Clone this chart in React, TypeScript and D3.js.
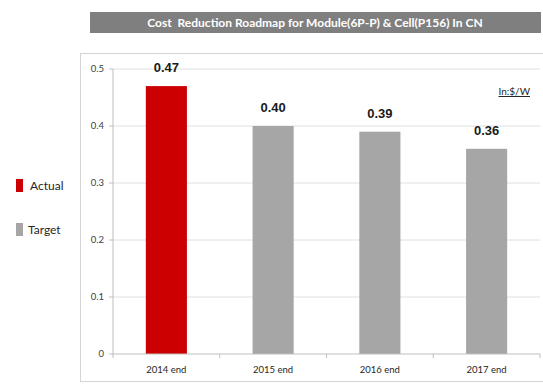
import React from "react";
import * as d3 from "d3";

const categories = ["2014 end", "2015 end", "2016 end", "2017 end"];
const values = [0.47, 0.40, 0.39, 0.36];
const kinds = ["Actual", "Target", "Target", "Target"];
const yTicks = [0, 0.1, 0.2, 0.3, 0.4, 0.5];
const legendItems = ["Actual", "Target"];

const colors: Record<string, string> = { Actual: "#cc0000", Target: "#a6a6a6" };

const W = 543;
const H = 386;
const plot = { left: 113, right: 540, top: 69, bottom: 354 };

export default function App() {
  const x = d3
    .scaleBand<string>()
    .domain(categories)
    .range([plot.left, plot.right])
    .paddingInner(0.615)
    .paddingOuter(0.3075);
  const y = d3.scaleLinear().domain([0, 0.5]).range([plot.bottom, plot.top]);
  const bounds = d3.range(categories.length + 1).map((i) => plot.left + (i * (plot.right - plot.left)) / categories.length);

  return (
    <svg width={W} height={H} style={{ position: "absolute", left: 0, top: 0, background: "#fff" }}>
      {/* title bar */}
      <rect x={90} y={12} width={451} height={21} fill="#7f7f7f" />
      <text x={315} y={26.5} textAnchor="middle" fill="#fff" fontFamily="Lato, 'Open Sans', sans-serif" fontWeight={700} fontSize={12} style={{ whiteSpace: "pre" }}>
        {"Cost  Reduction Roadmap for Module(6P-P) & Cell(P156) In CN"}
      </text>

      {/* chart frame */}
      <rect x={80.5} y={53.5} width={470} height={328} fill="none" stroke="#d4d4d4" strokeWidth={1} />

      {/* gridlines and y ticks */}
      {yTicks.map((t) => (
        <g key={t}>
          {t > 0 && <line x1={plot.left} x2={plot.right} y1={y(t)} y2={y(t)} stroke="#e0e0e0" strokeWidth={1} />}
          <line x1={plot.left - 4} x2={plot.left} y1={y(t)} y2={y(t)} stroke="#bfbfbf" />
          <text x={104} y={y(t) + 3} textAnchor="end" fontFamily="Lato, sans-serif" fontSize={9.5} fill="#404040">
            {d3.format("")(t)}
          </text>
        </g>
      ))}
      <line x1={plot.left} x2={plot.left} y1={plot.top} y2={plot.bottom} stroke="#bfbfbf" />

      {/* bars */}
      {categories.map((c, i) => (
        <g key={c}>
          <rect x={x(c)} y={y(values[i])} width={x.bandwidth()} height={plot.bottom - y(values[i])} fill={colors[kinds[i]]} />
          <text x={(x(c) as number) + x.bandwidth() / 2} y={y(values[i]) - 14} textAnchor="middle" fontFamily="'Liberation Sans', Arial, sans-serif" fontWeight={700} fontSize={13} fill="#1a1a1a">
            {values[i].toFixed(2)}
          </text>
          <text x={(x(c) as number) + x.bandwidth() / 2} y={373} textAnchor="middle" fontFamily="Lato, sans-serif" fontSize={9.5} fill="#262626">
            {c}
          </text>
        </g>
      ))}

      {/* x axis */}
      <line x1={plot.left} x2={plot.right} y1={plot.bottom} y2={plot.bottom} stroke="#bfbfbf" />
      {bounds.map((b) => (
        <line key={b} x1={b} x2={b} y1={plot.bottom} y2={plot.bottom + 4} stroke="#bfbfbf" />
      ))}

      {/* unit */}
      <text x={530} y={95} textAnchor="end" fontFamily="Lato, sans-serif" fontSize={10} fill="#262626" textDecoration="underline">
        In:$/W
      </text>

      {/* legend */}
      {legendItems.map((k, i) => (
        <g key={k}>
          <rect x={16} y={179 + i * 44} width={7} height={13} fill={colors[k]} />
          <text x={i === 0 ? 30 : 28} y={190 + i * 44} fontFamily="Lato, sans-serif" fontSize={12} fill="#262626">
            {k}
          </text>
        </g>
      ))}
    </svg>
  );
}
